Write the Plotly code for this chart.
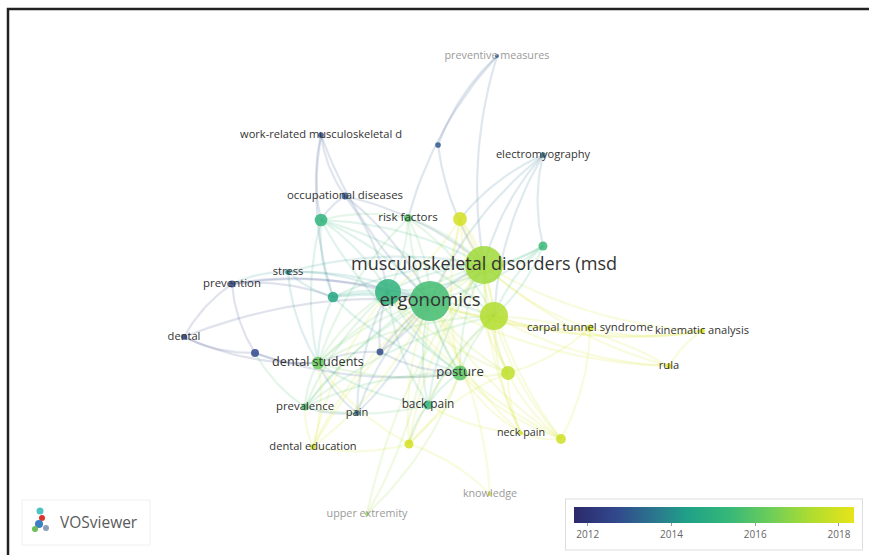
import numpy as np
import plotly.graph_objects as go
from plotly.colors import sample_colorscale

# ---------------- data ----------------
labels = ["ergonomics", "musculoskeletal disorders (msd", "", "", "risk factors", "",
          "occupational diseases", "", "", "", "stress", "prevention", "dental", "", "",
          "dental students", "posture", "", "prevalence", "pain", "back pain", "neck pain", "",
          "dental education", "", "carpal tunnel syndrome", "kinematic analysis", "rula",
          "preventive measures", "work-related musculoskeletal d", "", "electromyography",
          "knowledge", "upper extremity"]
node_x = [430, 484, 388, 494, 408, 460, 345, 321, 543, 333, 288, 232, 184, 255, 380,
          318, 460, 508, 305, 357, 428, 521, 561, 313, 409, 590, 702, 669, 497, 321, 438, 543,
          490, 367]
node_y = [301, 265, 292, 316, 218, 219, 196, 220, 246, 297, 272, 284, 337, 353, 352,
          363, 373, 373, 407, 413, 405, 433, 439, 447, 444, 328, 331, 366, 56, 135, 145, 155,
          494, 514]
occurrences = [100, 90, 42, 49, 4, 12, 3, 10, 5, 7, 2, 3, 2, 4, 3,
               10, 14, 12, 3, 2, 5, 1, 6, 2, 5, 3, 2, 2, 1, 2, 2, 2, 1, 1]
avg_year = [2015.6, 2017.1, 2015.1, 2017.4, 2016.0, 2018.0, 2013.0, 2015.2, 2015.4, 2014.6,
            2014.0, 2012.6, 2012.3, 2012.7, 2012.8, 2016.3, 2016.0, 2017.6, 2015.8, 2013.5,
            2015.3, 2018.0, 2017.9, 2018.0, 2018.0, 2018.0, 2018.1, 2018.1, 2013.0, 2012.8,
            2013.0, 2013.5, 2018.0, 2017.0]
links = [(0, 1), (0, 2), (0, 3), (1, 2), (1, 3), (0, 4), (0, 5), (1, 5), (0, 7), (1, 7), (0, 9),
         (2, 9), (0, 15), (1, 15), (0, 16), (1, 16), (0, 17), (1, 17), (0, 18), (1, 18), (0, 20),
         (1, 20), (0, 21), (1, 21), (0, 22), (1, 22), (0, 24), (1, 24), (0, 25), (1, 25), (1, 26),
         (0, 26), (1, 27), (0, 27), (0, 8), (1, 8), (0, 6), (1, 6), (0, 10), (1, 10), (0, 11),
         (2, 11), (9, 11), (10, 11), (11, 13), (11, 12), (12, 13), (12, 15), (13, 15), (13, 18),
         (14, 15), (14, 0), (2, 15), (2, 16), (3, 16), (3, 17), (15, 18), (15, 19), (16, 20),
         (16, 17), (18, 20), (20, 21), (21, 22), (23, 15), (23, 0), (23, 24), (24, 16), (28, 30),
         (28, 1), (28, 4), (29, 6), (29, 0), (29, 7), (29, 9), (30, 1), (31, 1), (31, 8), (31, 3),
         (31, 5), (31, 0), (32, 0), (32, 24), (33, 0), (33, 16), (3, 25), (25, 26), (26, 27),
         (27, 3), (17, 22), (4, 7), (5, 1), (7, 9), (6, 7), (2, 7), (2, 18), (19, 0), (10, 9),
         (8, 3), (15, 16), (18, 19), (2, 20), (3, 21), (5, 16), (4, 15), (9, 15), (7, 15),
         (2, 4), (2, 5), (2, 6), (2, 8), (2, 10), (2, 14), (2, 17), (2, 19), (2, 22), (2, 23),
         (3, 4), (3, 5), (3, 7), (3, 8), (3, 9), (3, 15), (3, 18), (3, 20), (3, 22), (3, 24),
         (3, 26), (3, 27), (1, 9), (1, 4), (1, 14), (1, 23), (1, 33), (0, 23), (0, 19), (0, 12),
         (16, 18), (16, 21), (16, 22), (17, 21), (17, 24), (15, 20), (15, 24), (7, 16), (9, 16),
         (5, 17), (4, 16), (20, 24), (18, 23), (17, 25), (22, 25), (14, 16), (13, 16), (10, 15)]
year_min, year_max = 2011.67, 2018.36
year_ticks = [2012, 2014, 2016, 2018]

# VOSviewer-like colour map
vos_scale = [[0.0, "#2c2a6b"], [0.15, "#32488c"], [0.3, "#2a7a8e"], [0.4, "#1fa088"],
             [0.55, "#35b779"], [0.7, "#6ccd5a"], [0.85, "#b0dd2f"], [1.0, "#e8e419"]]

# ---------------- derived ----------------
occ = np.array(occurrences, dtype=float)
yr = np.array(avg_year)
norm = (yr - year_min) / (year_max - year_min)
node_colors = sample_colorscale(vos_scale, list(norm))
diam = 4.0 * np.sqrt(occ)
font_sizes = 9.9 + 0.86 * np.sqrt(occ)
label_colors = ["#9a9a9a" if o <= 1 and lab not in ("neck pain",) else "#333333"
                for o, lab in zip(occurrences, labels)]


def to_rgba(c, a):
    c = c.strip()
    if c.startswith("rgb"):
        vals = c[c.index("(") + 1:c.index(")")].split(",")
        r, g, b = [float(v) for v in vals[:3]]
    else:
        c = c.lstrip("#")
        r, g, b = int(c[0:2], 16), int(c[2:4], 16), int(c[4:6], 16)
    return f"rgba({int(r)},{int(g)},{int(b)},{a})"


fig = go.Figure()

# edges (slightly curved like VOSviewer)
t = np.linspace(0, 1, 20)
for k, (i, j) in enumerate(links):
    x0, y0, x1, y1 = node_x[i], node_y[i], node_x[j], node_y[j]
    mx, my = (x0 + x1) / 2, (y0 + y1) / 2
    dx, dy = x1 - x0, y1 - y0
    cx, cy = mx - 0.12 * dy, my + 0.12 * dx
    bx = (1 - t) ** 2 * x0 + 2 * (1 - t) * t * cx + t ** 2 * x1
    by = (1 - t) ** 2 * y0 + 2 * (1 - t) * t * cy + t ** 2 * y1
    src = j if occurrences[j] < occurrences[i] else i
    fig.add_trace(go.Scatter(x=bx, y=by, mode="lines",
                             line=dict(color=to_rgba(node_colors[src], 0.15), width=2.2),
                             hoverinfo="skip", showlegend=False))

# nodes
fig.add_trace(go.Scatter(
    x=node_x, y=node_y, mode="markers",
    marker=dict(size=diam, color=avg_year, colorscale=vos_scale, cmin=year_min, cmax=year_max,
                opacity=0.85, line=dict(width=0),
                showscale=True,
                colorbar=dict(orientation="h", thickness=16, thicknessmode="pixels",
                              len=296, lenmode="pixels", x=714 / 869, xanchor="center",
                              y=1 - 499 / 555, yanchor="top", xpad=8, ypad=8,
                              tickvals=year_ticks, ticks="outside", ticklen=3,
                              tickcolor="#999", outlinewidth=0,
                              tickfont=dict(size=10, color="#666", family="Open Sans"),
                              bgcolor="white", bordercolor="#dddddd", borderwidth=1)),
    hoverinfo="text", text=labels, showlegend=False))

# labels
fig.add_trace(go.Scatter(
    x=node_x, y=node_y, mode="text", text=labels,
    textfont=dict(size=list(font_sizes), color=label_colors, family="Open Sans"),
    textposition="middle center", hoverinfo="skip", showlegend=False))

# frame
fig.add_shape(type="path", path="M 8 560 L 8 9 L 875 9", xref="x", yref="y",
              line=dict(color="#222", width=2.5))

# VOSviewer logo
fig.add_shape(type="rect", x0=22, y0=500, x1=150, y1=545, xref="x", yref="y",
              line=dict(color="#f0f0f0", width=1), fillcolor="rgba(0,0,0,0)")
for (lx, ly, lc, ls) in [(40, 511, "#4fc3c3", 7), (42, 518, "#d9342b", 6), (39, 524, "#3b7fc4", 8),
                         (35, 529, "#6bbf59", 6), (46, 528, "#8aa0b8", 6)]:
    fig.add_shape(type="circle", x0=lx - ls / 2, x1=lx + ls / 2, y0=ly - ls / 2, y1=ly + ls / 2,
                  xref="x", yref="y", fillcolor=lc, line=dict(width=0))
fig.add_annotation(x=58, y=522, text="VOSviewer", showarrow=False, xanchor="left",
                   font=dict(size=15.5, color="#5a5a5a", family="Open Sans"), xref="x", yref="y")

fig.update_layout(
    width=869, height=555, margin=dict(l=0, r=0, t=0, b=0),
    paper_bgcolor="white", plot_bgcolor="white",
    xaxis=dict(range=[0, 869], visible=False, fixedrange=True),
    yaxis=dict(range=[555, 0], visible=False, fixedrange=True),
)
fig.write_html("out.html")
